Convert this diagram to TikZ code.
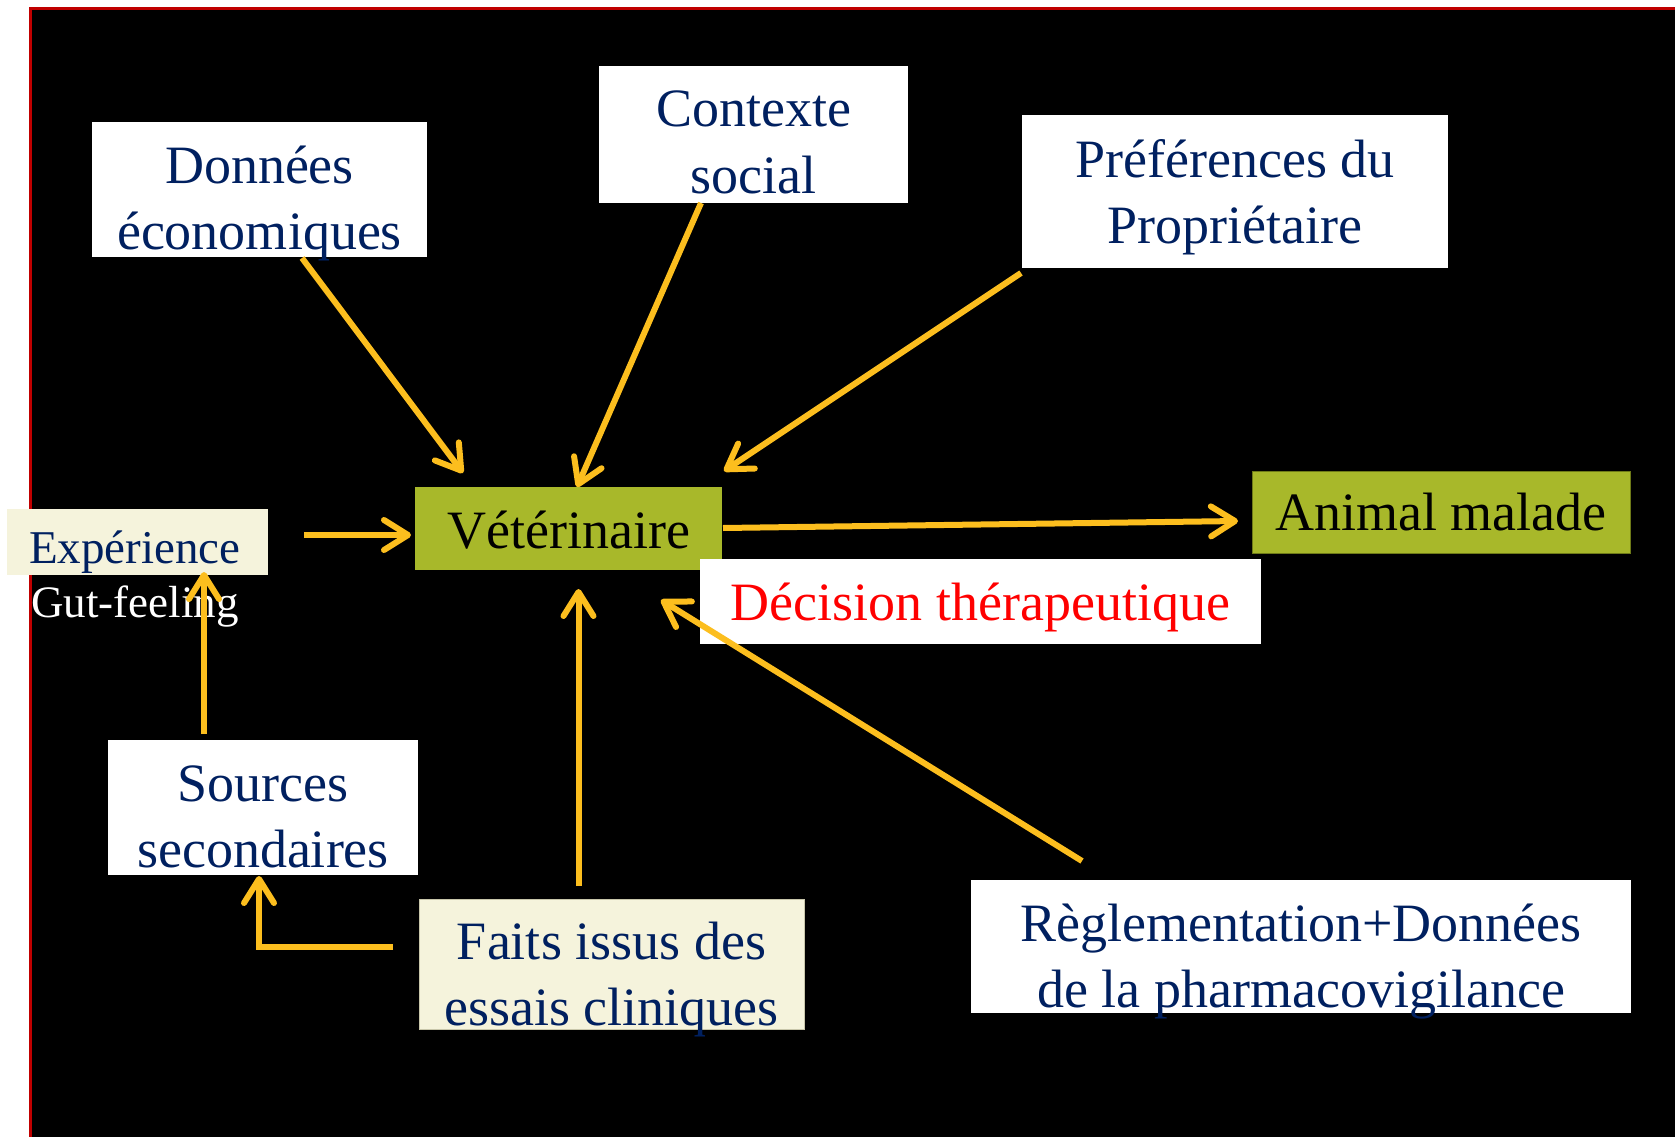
\documentclass[tikz,border=0pt]{standalone}
\usepackage{fontspec}
\setmainfont{Liberation Serif}
\usetikzlibrary{arrows.meta,fit}
\definecolor{navy}{RGB}{0,32,96}
\definecolor{gold}{RGB}{252,190,30}
\definecolor{olive}{RGB}{168,184,42}
\definecolor{olivedark}{RGB}{110,122,24}
\definecolor{cream}{RGB}{245,243,220}
\definecolor{borderred}{RGB}{192,0,0}
\begin{document}
\begin{tikzpicture}[x=1pt,y=-1pt,
  whitebox/.style={fill=white, draw=none, inner sep=0pt},
  creambox/.style={fill=cream, draw=none, inner sep=0pt},
  greenbox/.style={fill=olive, draw=none, inner sep=0pt},
  txt/.style={inner sep=0pt, anchor=base, text=navy, font=\fontsize{54}{66}\selectfont},
  arr/.style={draw=gold, line width=6pt,
    -{Straight Barb[length=24pt, width=30pt, line cap=round, line join=round]}}
]
\useasboundingbox (0,0) rectangle (1675,1137);
% background
\fill[black] (30,9) rectangle (1675,1137);
\draw[borderred, line width=3pt] (30,1140) -- (30,9) -- (1680,9);

% boxes
\node[whitebox, fit={(92,122) (427,257)}] (don) {};
\node[whitebox, fit={(599,66) (908,203)}] (ctx) {};
\node[whitebox, fit={(1022,115) (1448,268)}] (pref) {};
\node[greenbox, fit={(415,487) (722,570)}] (vet) {};
\node[greenbox, draw=olivedark, line width=1pt, fit={(1252,471) (1630,553)}] (ani) {};
\node[whitebox, fit={(700,559) (1261,644)}] (dec) {};
\node[creambox, fit={(7,509) (268,575)}] (exp) {};
\node[whitebox, fit={(108,740) (418,875)}] (src) {};
\node[creambox, draw={rgb,255:red,200;green,198;blue,170}, line width=0.8pt, fit={(419,899) (804,1029)}] (fai) {};
\node[whitebox, fit={(971,880) (1631,1013)}] (reg) {};

% texts
\node[txt] (donA) at (259.5,183) {Données};
\node[txt] (donB) at (259.5,249) {économiques};
\node[txt] (ctxA) at (753.5,127) {Contexte};
\node[txt] (ctxB) at (753.5,193) {social};
\node[txt] (prefA) at (1235,177) {Préférences du};
\node[txt] (prefB) at (1235,243) {Propriétaire};
\node[txt, text=black] (vetT) at (568.5,548) {Vétérinaire};
\node[txt, text=black] (aniT) at (1441,530) {Animal malade};
\node[txt, text=red] (decT) at (980.5,620) {Décision thérapeutique};
\node[txt, anchor=base west, font=\fontsize{47}{56}\selectfont] (expT) at (29,563) {Expérience};
\node[txt, anchor=base west, text=white, font=\fontsize{45}{54}\selectfont] (gutT) at (31,617) {Gut-feeling};
\node[txt] (srcA) at (263,801) {Sources};
\node[txt] (srcB) at (263,867) {secondaires};
\node[txt] (faiA) at (611.5,959) {Faits issus des};
\node[txt] (faiB) at (611.5,1025) {essais cliniques};
\node[txt] (regA) at (1301,941) {Règlementation+Données};
\node[txt] (regB) at (1301,1007) {de la pharmacovigilance};

% connector end points
\coordinate (donS) at (302,258);
\coordinate (vetNW) at (463,473);
\coordinate (ctxS) at (701,203);
\coordinate (vetN) at (577,487);
\coordinate (prefS) at (1021,273);
\coordinate (vetNE) at (724,471);
\coordinate (expE) at (304,535);
\coordinate (vetW) at (411,535);
\coordinate (vetE) at (723,528);
\coordinate (aniW) at (1238,521);
\coordinate (faiN) at (578.5,886);
\coordinate (vetS) at (578.5,589);
\coordinate (regN) at (1082,861);
\coordinate (vetSE) at (661,600);
\coordinate (srcN) at (204,734);
\coordinate (expS) at (204,572);
\coordinate (faiW) at (393,947);
\coordinate (srcS) at (259,876);

% connectors
\draw[arr] (donS) -- (vetNW);
\draw[arr] (ctxS) -- (vetN);
\draw[arr] (prefS) -- (vetNE);
\draw[arr] (expE) -- (vetW);
\draw[arr] (vetE) -- (aniW);
\draw[arr] (faiN) -- (vetS);
\draw[arr] (regN) -- (vetSE);
\draw[arr] (srcN) -- (expS);
\draw[arr] (faiW) -| (srcS);
\end{tikzpicture}
\end{document}
